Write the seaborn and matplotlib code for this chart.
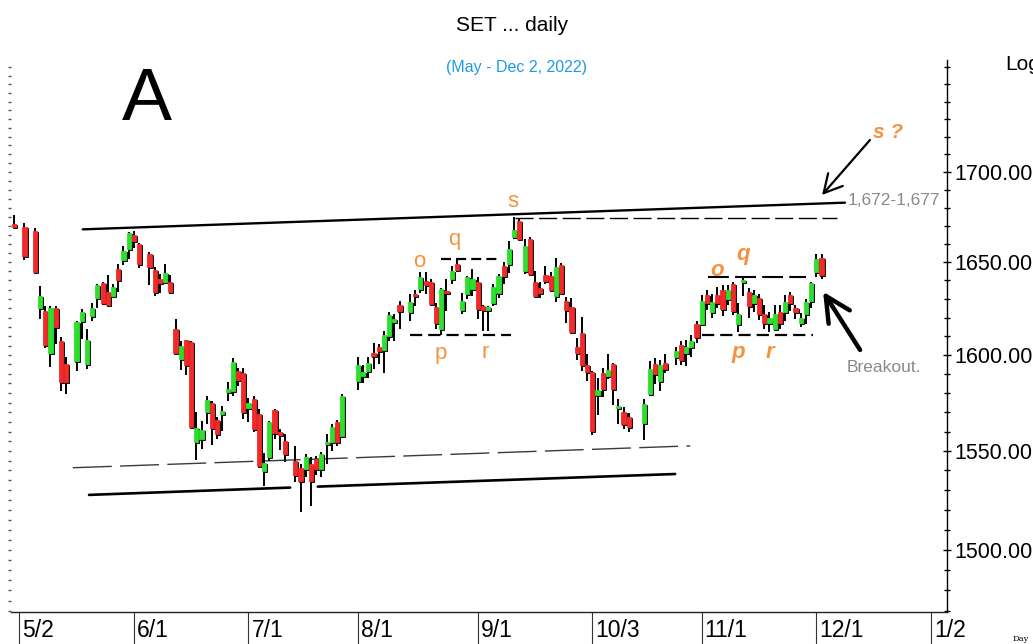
import numpy as np
import pandas as pd
import matplotlib
matplotlib.use("Agg")
import matplotlib.pyplot as plt
import matplotlib.ticker as mticker
import matplotlib.transforms as mtransforms
import seaborn as sns

# SET index, daily candles (May - Dec 2, 2022)
dates = [
    "04-29", "05-03", "05-05", "05-06", "05-09", "05-10", "05-11", "05-12", "05-13",
    "05-17", "05-18", "05-19", "05-20", "05-23", "05-24", "05-25", "05-26", "05-27",
    "05-30", "05-31", "06-01", "06-02", "06-06", "06-07", "06-08", "06-09", "06-10",
    "06-13", "06-14", "06-15", "06-16", "06-17", "06-20", "06-21", "06-22", "06-23",
    "06-24", "06-27", "06-28", "06-29", "06-30", "07-01", "07-04", "07-05", "07-06",
    "07-07", "07-08", "07-11", "07-12", "07-14", "07-15", "07-18", "07-19", "07-20",
    "07-21", "07-22", "07-25", "07-26", "07-27", "08-01", "08-02", "08-03", "08-04",
    "08-05", "08-08", "08-09", "08-10", "08-11", "08-15", "08-16", "08-17", "08-18",
    "08-19", "08-22", "08-23", "08-24", "08-25", "08-26", "08-29", "08-30", "08-31",
    "09-01", "09-02", "09-05", "09-06", "09-07", "09-08", "09-09", "09-12", "09-13",
    "09-14", "09-15", "09-16", "09-19", "09-20", "09-21", "09-22", "09-23", "09-26",
    "09-27", "09-28", "09-29", "09-30", "10-03", "10-04", "10-05", "10-06", "10-07",
    "10-10", "10-11", "10-12", "10-17", "10-18", "10-19", "10-20", "10-21", "10-25",
    "10-26", "10-27", "10-28", "10-31", "11-01", "11-02", "11-03", "11-04", "11-07",
    "11-08", "11-09", "11-10", "11-11", "11-14", "11-15", "11-16", "11-17", "11-18",
    "11-21", "11-22", "11-23", "11-24", "11-25", "11-28", "11-29", "11-30", "12-01",
    "12-02",
]
opens = [
    1671.0, 1669.2, 1667.0, 1625.0, 1623.4, 1601.0, 1625.0, 1607.6, 1595.0,
    1597.0, 1618.0, 1595.0, 1621.0, 1630.4, 1638.6, 1633.7, 1631.5, 1646.0,
    1651.0, 1657.0, 1664.8, 1660.0, 1654.4, 1645.8, 1641.0, 1639.0, 1639.3,
    1613.6, 1598.0, 1607.8, 1606.7, 1554.5, 1556.2, 1570.0, 1574.7, 1566.0,
    1569.3, 1580.3, 1581.0, 1591.4, 1590.6, 1572.0, 1577.0, 1569.0, 1539.5,
    1546.8, 1571.0, 1559.6, 1555.3, 1545.0, 1541.2, 1540.8, 1543.4, 1545.9,
    1540.5, 1553.6, 1554.5, 1564.8, 1557.9, 1586.2, 1588.8, 1591.4, 1601.0,
    1604.2, 1602.7, 1610.0, 1617.6, 1627.0, 1622.8, 1632.6, 1635.3, 1639.8,
    1639.0, 1625.4, 1614.0, 1634.4, 1640.8, 1649.0, 1624.2, 1632.6, 1635.3,
    1639.0, 1626.3, 1624.0, 1628.0, 1633.2, 1648.0, 1649.0, 1664.0, 1672.7,
    1645.3, 1662.6, 1639.0, 1635.7, 1643.0, 1642.3, 1631.7, 1648.4, 1629.0,
    1625.4, 1604.5, 1611.5, 1594.8, 1590.9, 1578.9, 1590.5, 1589.2, 1595.2,
    1572.0, 1570.0, 1567.7, 1564.4, 1579.4, 1595.2, 1586.2, 1595.7, 1598.8,
    1605.4, 1601.3, 1604.5, 1616.3, 1616.3, 1632.3, 1623.0, 1632.0, 1635.0,
    1630.0, 1638.0, 1616.3, 1639.0, 1634.0, 1628.0, 1630.4, 1621.7, 1617.3,
    1614.0, 1622.8, 1622.8, 1632.0, 1625.0, 1617.3, 1621.7, 1628.9, 1644.6,
    1652.5,
]
highs = [
    1676.0, 1671.4, 1669.0, 1637.0, 1626.0, 1626.0, 1626.0, 1609.8, 1599.0,
    1618.0, 1624.5, 1613.6, 1628.0, 1638.0, 1639.0, 1643.0, 1638.0, 1649.0,
    1658.8, 1666.5, 1667.0, 1660.4, 1655.5, 1647.5, 1643.5, 1649.0, 1643.0,
    1619.0, 1607.2, 1608.0, 1607.5, 1570.0, 1565.6, 1578.5, 1576.0, 1567.6,
    1573.0, 1586.0, 1598.3, 1593.0, 1593.0, 1577.3, 1578.5, 1571.6, 1549.0,
    1565.5, 1571.6, 1561.3, 1558.8, 1552.7, 1543.4, 1548.5, 1546.8, 1547.3,
    1549.3, 1558.8, 1563.9, 1566.1, 1579.4, 1599.0, 1594.8, 1599.0, 1606.3,
    1606.0, 1612.7, 1623.0, 1621.7, 1629.0, 1632.6, 1635.0, 1644.4, 1644.4,
    1640.8, 1628.0, 1635.7, 1640.8, 1648.0, 1652.5, 1633.4, 1642.6, 1646.0,
    1641.7, 1626.8, 1626.0, 1638.0, 1643.5, 1649.8, 1661.7, 1674.6, 1673.6,
    1662.6, 1663.6, 1645.3, 1639.0, 1648.0, 1644.4, 1652.0, 1649.5, 1630.9,
    1630.4, 1608.9, 1620.4, 1600.5, 1591.4, 1588.0, 1593.0, 1600.5, 1595.7,
    1576.8, 1572.5, 1569.4, 1576.8, 1596.6, 1598.3, 1597.4, 1600.5, 1604.5,
    1607.2, 1608.0, 1610.9, 1618.0, 1632.3, 1635.0, 1632.6, 1636.5, 1637.6,
    1637.5, 1639.0, 1627.7, 1641.8, 1636.0, 1635.0, 1632.6, 1627.0, 1623.0,
    1627.0, 1627.0, 1632.2, 1633.5, 1626.6, 1622.5, 1630.0, 1639.0, 1654.3,
    1654.3,
]
lows = [
    1668.5, 1651.0, 1644.0, 1619.0, 1604.0, 1593.8, 1606.0, 1581.0, 1579.4,
    1591.8, 1608.7, 1592.8, 1618.0, 1625.0, 1627.0, 1625.5, 1631.0, 1634.0,
    1648.4, 1651.6, 1657.7, 1647.0, 1637.5, 1631.7, 1633.0, 1638.0, 1632.6,
    1600.0, 1592.0, 1589.7, 1561.7, 1545.6, 1551.0, 1564.0, 1552.8, 1556.2,
    1560.5, 1576.0, 1578.5, 1583.7, 1566.5, 1565.0, 1559.6, 1542.0, 1532.3,
    1545.0, 1556.2, 1550.7, 1544.2, 1534.0, 1519.0, 1536.6, 1522.0, 1537.6,
    1536.6, 1543.4, 1550.0, 1552.7, 1556.5, 1581.6, 1585.4, 1588.0, 1592.6,
    1595.4, 1590.5, 1607.7, 1607.2, 1614.0, 1618.0, 1626.0, 1633.0, 1632.6,
    1626.0, 1613.6, 1610.9, 1623.6, 1638.0, 1644.4, 1621.7, 1630.0, 1631.7,
    1619.0, 1612.7, 1612.7, 1626.4, 1630.4, 1638.0, 1644.0, 1662.6, 1662.3,
    1643.5, 1643.0, 1630.9, 1630.4, 1638.0, 1633.5, 1628.5, 1632.6, 1617.3,
    1611.5, 1597.4, 1591.4, 1586.2, 1558.0, 1568.6, 1577.7, 1587.4, 1573.8,
    1564.0, 1561.3, 1559.6, 1555.8, 1578.2, 1584.5, 1581.0, 1590.5, 1594.8,
    1594.8, 1594.0, 1599.0, 1606.6, 1615.5, 1624.0, 1619.5, 1625.0, 1621.0,
    1627.0, 1621.6, 1612.0, 1631.7, 1620.0, 1622.7, 1618.7, 1613.6, 1612.5,
    1612.7, 1613.6, 1618.0, 1623.6, 1619.0, 1614.7, 1616.3, 1625.0, 1641.7,
    1640.8,
]
closes = [
    1669.5, 1653.3, 1644.6, 1631.5, 1605.4, 1625.0, 1614.7, 1586.0, 1585.6,
    1617.4, 1622.8, 1608.0, 1625.0, 1637.5, 1627.7, 1626.6, 1636.4, 1640.0,
    1656.0, 1666.0, 1661.5, 1649.0, 1647.3, 1633.5, 1638.4, 1643.9, 1634.0,
    1601.0, 1605.0, 1594.5, 1562.2, 1561.7, 1561.0, 1576.4, 1561.7, 1558.8,
    1570.7, 1582.0, 1596.5, 1587.0, 1570.0, 1575.0, 1561.3, 1542.5, 1543.9,
    1564.7, 1559.3, 1558.2, 1548.5, 1537.8, 1534.8, 1546.8, 1534.8, 1540.8,
    1548.5, 1554.8, 1562.2, 1554.5, 1578.5, 1594.8, 1590.9, 1596.0, 1599.6,
    1602.3, 1610.9, 1621.2, 1619.4, 1623.6, 1628.1, 1631.7, 1641.7, 1637.7,
    1627.2, 1617.3, 1635.3, 1633.2, 1645.3, 1645.8, 1629.0, 1641.7, 1641.0,
    1624.5, 1624.1, 1625.4, 1636.3, 1642.3, 1642.3, 1657.0, 1667.7, 1662.6,
    1659.0, 1643.5, 1631.7, 1633.2, 1639.8, 1634.9, 1647.1, 1633.2, 1624.1,
    1612.0, 1601.3, 1594.8, 1590.9, 1560.5, 1581.6, 1582.0, 1591.9, 1582.0,
    1573.3, 1563.9, 1562.5, 1574.2, 1592.6, 1590.0, 1594.8, 1592.6, 1602.2,
    1597.4, 1604.2, 1607.7, 1609.6, 1628.9, 1627.8, 1628.4, 1628.0, 1624.5,
    1635.0, 1623.6, 1622.0, 1640.5, 1626.0, 1632.3, 1622.0, 1617.3, 1619.5,
    1621.7, 1617.0, 1628.1, 1627.7, 1623.0, 1620.0, 1628.1, 1638.6, 1651.6,
    1643.0,
]

month_dates = ["2022-05-02", "2022-06-01", "2022-07-01", "2022-08-01", "2022-09-01",
               "2022-10-03", "2022-11-01", "2022-12-01", "2023-01-02"]
month_labels = ["5/2", "6/1", "7/1", "8/1", "9/1", "10/3", "11/1", "12/1", "1/2"]
price_ticks = [1500, 1550, 1600, 1650, 1700]

# drawn lines (trading-day index, price)
upper_trend = ([13.2, 159.5], [1668.0, 1682.8])
upper_dash = ([96.2, 158.0], [1674.3, 1674.3])
lower_trend_a = ([14.4, 53.0], [1527.6, 1531.3])
lower_trend_b = ([58.3, 126.9], [1531.8, 1538.2])
lower_dash = ([11.3, 129.8], [1541.4, 1552.6])
aug_top = ([81.9, 93.0], [1651.6, 1651.6])
aug_base = ([76.1, 95.3], [1610.5, 1610.5])
nov_top = ([133.3, 152.1], [1642.1, 1642.1])
nov_base = ([132.0, 153.4], [1610.7, 1610.7])

start = "2022-04-29"
df = pd.DataFrame({
    "date": pd.to_datetime(["2022-" + d for d in dates]),
    "open": opens, "high": highs, "low": lows, "close": closes,
})
df["x"] = np.busday_count(start, df["date"].values.astype("datetime64[D]"))
month_x = np.busday_count(start, np.array(month_dates, dtype="datetime64[D]"))

sns.set_theme(style="white")
plt.rcParams["font.family"] = ["Liberation Sans", "DejaVu Sans"]

fig = plt.figure(figsize=(10.33, 6.44), dpi=100)
ax = fig.add_axes([11 / 1033, 32 / 644, 936 / 1033, 552 / 644])
axl = ax.twinx()

ax.set_yscale("log")
axl.set_yscale("log")
ylo, yhi = 1469.5, 1764.2
ax.set_ylim(ylo, yhi)
axl.set_ylim(ylo, yhi)
ax.set_xlim(-0.58, 179.08)

# candles
up = df["close"] >= df["open"]
body_lo = np.minimum(df["open"], df["close"])
body_h = (df["open"] - df["close"]).abs()
colors = np.where(up, "#2ee02e", "#f22a2a")
shadow = mtransforms.offset_copy(ax.transData, fig=fig, x=1.0, y=-1.0, units="dots")

ax.vlines(df["x"], df["low"], df["high"], color="black", lw=1.4, zorder=3)
ax.bar(df["x"], body_h, bottom=body_lo, width=0.8, color="black",
       edgecolor="black", lw=0.6, transform=shadow, zorder=4)
ax.bar(df["x"], body_h, bottom=body_lo, width=0.8, color=colors,
       edgecolor=colors, lw=0.6, zorder=5)

# trend and pattern lines
ax.plot(*upper_trend, color="black", lw=1.7, zorder=2)
ax.plot(*upper_dash, color="black", lw=1.0, ls=(0, (13, 4)), zorder=2)
ax.plot(*lower_trend_a, color="black", lw=1.9, zorder=2)
ax.plot(*lower_trend_b, color="black", lw=1.9, zorder=2)
ax.plot(*lower_dash, color="#3a3a3a", lw=1.0, ls=(0, (28, 6)), zorder=2)
ax.plot(*aug_top, color="black", lw=1.6, ls=(0, (4.5, 2.3)), zorder=2)
ax.plot(*aug_base, color="black", lw=1.6, ls=(0, (5.5, 2.7)), zorder=2)
ax.plot(*nov_top, color="black", lw=1.5, ls=(0, (10, 3)), zorder=2)
ax.plot(*nov_base, color="black", lw=1.6, ls=(0, (5.5, 2.7)), zorder=2)

# wave labels
orange = "#f5923e"
for lbl, xi, yp in [("o", 77.7, 1647.4), ("q", 84.5, 1659.4), ("p", 82.0, 1597.9),
                    ("r", 90.4, 1598.4), ("s", 95.8, 1680.4)]:
    ax.text(xi, yp, lbl, color=orange, fontsize=16, ha="center", va="baseline")
for lbl, xi, yp in [("o", 134.9, 1642.4), ("q", 139.9, 1651.2), ("p", 139.0, 1598.4),
                    ("r", 145.1, 1598.4)]:
    ax.text(xi, yp, lbl, color=orange, fontsize=16, ha="center", va="baseline",
            fontweight="bold", fontstyle="italic")
ax.text(164.9, 1719.2, "s ?", color=orange, fontsize=15, ha="left", va="baseline",
        fontweight="bold", fontstyle="italic")
ax.text(160.1, 1681.5, "1,672-1,677", color="#8a8a8a", fontsize=12.5, ha="left", va="baseline")
ax.text(159.9, 1591.0, "Breakout.", color="#8a8a8a", fontsize=12.5, ha="left", va="baseline")

ax.annotate("", xy=(155.1, 1687.1), xytext=(164.3, 1718.1),
            arrowprops=dict(arrowstyle="->,head_length=0.65,head_width=0.35", lw=1.6,
                            color="black", mutation_scale=20, shrinkA=0, shrinkB=0))
ax.annotate("", xy=(155.3, 1633.9), xytext=(162.4, 1602.7),
            arrowprops=dict(arrowstyle="->,head_length=0.9,head_width=0.45", lw=3.2,
                            color="black", mutation_scale=20, shrinkA=0, shrinkB=0))

# axes styling
for a in (ax, axl):
    for side in ("top", "left", "right", "bottom"):
        a.spines[side].set_visible(False)
ax.spines["right"].set_visible(True)
ax.spines["bottom"].set_visible(True)
ax.spines["right"].set_color("black")
ax.spines["bottom"].set_color("#222222")
ax.spines["right"].set_linewidth(1.0)
ax.spines["bottom"].set_linewidth(1.0)

ax.yaxis.tick_right()
ax.yaxis.set_major_locator(mticker.FixedLocator(price_ticks))
ax.yaxis.set_major_formatter(mticker.FuncFormatter(lambda v, p: f"{v:.2f}"))
ax.yaxis.set_minor_locator(mticker.FixedLocator(np.arange(1470, 1761, 10)))
ax.yaxis.set_minor_formatter(mticker.NullFormatter())
ax.tick_params(axis="y", which="both", right=True, left=False, direction="inout",
               color="black", width=1.0, labelsize=15.5, pad=2, labelcolor="black")
ax.tick_params(axis="y", which="major", length=6)
ax.tick_params(axis="y", which="minor", length=5)

axl.yaxis.tick_left()
axl.yaxis.set_major_locator(mticker.FixedLocator(np.arange(1470, 1765, 5)))
axl.yaxis.set_minor_locator(mticker.NullLocator())
axl.tick_params(axis="y", which="both", left=True, right=False, labelleft=False,
                labelright=False, length=2, width=1.0, color="#555555", direction="out")

ax.set_xticks(month_x)
ax.set_xticklabels([])
ax.tick_params(axis="x", which="both", bottom=True, direction="out", length=24,
               width=0.8, color="#333333")
lab_tr = mtransforms.offset_copy(
    mtransforms.blended_transform_factory(ax.transData, ax.transAxes),
    fig=fig, x=3, y=0, units="dots")
for mx, ml in zip(month_x, month_labels):
    ax.text(mx, -7 / 552, ml, transform=lab_tr, ha="left", va="top", fontsize=16.5,
            color="black", clip_on=False)

# figure texts
fig.text(512 / 1033, 1 - 31 / 644, "SET ... daily", ha="center", va="baseline",
         fontsize=15, color="black")
fig.text(516 / 1033, 1 - 72 / 644, "(May - Dec 2, 2022)", ha="center", va="baseline",
         fontsize=11.5, color="#1e9be8")
fig.text(147 / 1033, 1 - 120 / 644, "A", ha="center", va="baseline", fontsize=54,
         color="black")
fig.text(1005 / 1033, 1 - 70 / 644, "Log", ha="left", va="baseline", fontsize=15,
         color="black")
fig.text(1013 / 1033, 3 / 644, "Day", ha="left", va="baseline", fontsize=6,
         color="black", family=["DejaVu Serif"])

fig.savefig("out.png", dpi=100)
